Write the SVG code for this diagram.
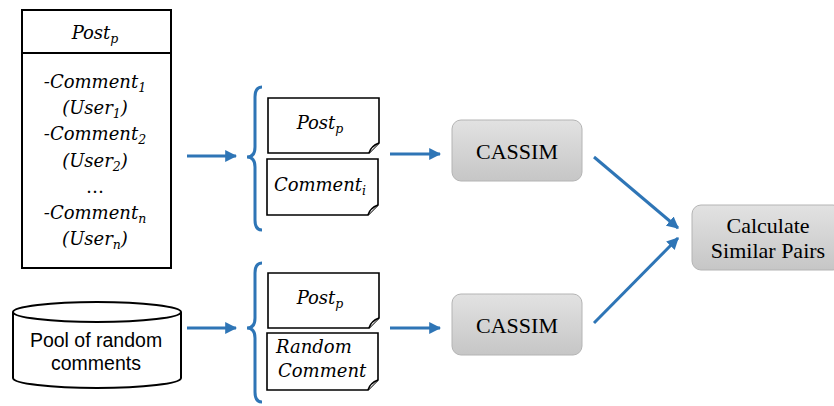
<svg xmlns="http://www.w3.org/2000/svg" width="834" height="406" viewBox="0 0 834 406">
<style>
.m{font-family:"DejaVu Serif",serif;font-style:italic;font-size:18px;fill:#000}
.s{font-size:12.5px}
.box{fill:#fff;stroke:#000;stroke-width:2}
.note{fill:#fff;stroke:#000;stroke-width:1.6}
.gr{fill:url(#g);stroke:#b4b4b4;stroke-width:1}
.t{font-family:"Liberation Serif","Times New Roman",Times,serif;font-size:22px;fill:#000;text-anchor:middle}
.p{font-family:"Liberation Sans",Arial,sans-serif;font-size:19.5px;fill:#000;text-anchor:middle}
.c{stroke:#2e75b6;stroke-width:3;fill:none}
</style>
<defs>
<linearGradient id="g" x1="0" y1="0" x2="0" y2="1"><stop offset="0" stop-color="#e2e2e2"/><stop offset="1" stop-color="#c6c6c6"/></linearGradient>
<marker id="a" viewBox="0 0 10 10" refX="9" refY="5" markerWidth="4" markerHeight="4" orient="auto" markerUnits="strokeWidth"><path d="M0,0 L10,5 L0,10 Z" fill="#2e75b6"/></marker>
</defs>
<g id="post-box">
<rect class="box" x="22" y="10" width="149" height="258"/>
<line x1="22" y1="53" x2="171" y2="53" stroke="#000" stroke-width="2"/>
<text class="m" x="95" y="39" text-anchor="middle">Post<tspan class="s" dy="4">p</tspan></text>
<text class="m" x="95" y="88" text-anchor="middle">-Comment<tspan class="s" dy="4">1</tspan></text>
<text class="m" x="95" y="114" text-anchor="middle">(User<tspan class="s" dy="4">1</tspan><tspan dy="-4">)</tspan></text>
<text class="m" x="95" y="140" text-anchor="middle">-Comment<tspan class="s" dy="4">2</tspan></text>
<text class="m" x="95" y="167" text-anchor="middle">(User<tspan class="s" dy="4">2</tspan><tspan dy="-4">)</tspan></text>
<text class="m" x="95" y="193" text-anchor="middle" style="font-style:normal">…</text>
<text class="m" x="95" y="219" text-anchor="middle">-Comment<tspan class="s" dy="4">n</tspan></text>
<text class="m" x="95" y="245" text-anchor="middle">(User<tspan class="s" dy="4">n</tspan><tspan dy="-4">)</tspan></text>
</g>
<g id="pool">
<path class="box" d="M13,312 V378 A84,10 0 0 0 181,378 V312"/>
<ellipse class="box" cx="97" cy="312" rx="84" ry="10"/>
<text class="p" x="96" y="347">Pool of random</text>
<text class="p" x="96" y="370">comments</text>
</g>
<g id="pair1">
<path class="note" d="M268,98 H379 V143 L369,153 H268 Z"/>
<path class="note" d="M369,153 Q371,146 379,143"/>
<text class="m" x="320" y="129" text-anchor="middle">Post<tspan class="s" dy="4">p</tspan></text>
<path class="note" d="M267,159 H378 V205 L368,215 H267 Z"/>
<path class="note" d="M368,215 Q370,208 378,205"/>
<text class="m" x="320" y="191" text-anchor="middle">Comment<tspan class="s" dy="4">i</tspan></text>
</g>
<g id="pair2">
<path class="note" d="M268,273 H379 V318 L369,328 H268 Z"/>
<path class="note" d="M369,328 Q371,321 379,318"/>
<text class="m" x="320" y="304" text-anchor="middle">Post<tspan class="s" dy="4">p</tspan></text>
<path class="note" d="M267,333 H378 V380 L368,390 H267 Z"/>
<path class="note" d="M368,390 Q370,383 378,380"/>
<text class="m" x="276" y="353">Random</text>
<text class="m" x="278" y="377">Comment</text>
</g>
<g id="cassim1">
<rect class="gr" x="452" y="120" width="130" height="61" rx="9"/>
<text class="t" x="517" y="159" font-family="Liberation Serif">CASSIM</text>
</g>
<g id="cassim2">
<rect class="gr" x="452" y="294" width="130" height="61" rx="9"/>
<text class="t" x="517" y="333" font-family="Liberation Serif">CASSIM</text>
</g>
<g id="calc">
<rect class="gr" x="692" y="205" width="150" height="65" rx="9"/>
<text class="t" x="768" y="233" font-family="Liberation Serif">Calculate</text>
<text class="t" x="768" y="258" font-family="Liberation Serif">Similar Pairs</text>
</g>
<g id="connectors">
<path class="c" d="M262,87 Q255,87 255,97 V147 Q255,157 247,157 Q255,157 255,167 V220 Q255,230 262,230"/>
<path class="c" d="M262,263 Q255,263 255,273 V318 Q255,328 247,328 Q255,328 255,338 V392 Q255,402 262,402"/>
<line class="c" x1="187" y1="156" x2="236" y2="156" marker-end="url(#a)"/>
<line class="c" x1="187" y1="328" x2="236" y2="328" marker-end="url(#a)"/>
<line class="c" x1="390" y1="154" x2="440" y2="154" marker-end="url(#a)"/>
<line class="c" x1="390" y1="328" x2="440" y2="328" marker-end="url(#a)"/>
<line class="c" x1="594" y1="157" x2="678" y2="228" marker-end="url(#a)"/>
<line class="c" x1="594" y1="323" x2="678" y2="238" marker-end="url(#a)"/>
</g>
</svg>
